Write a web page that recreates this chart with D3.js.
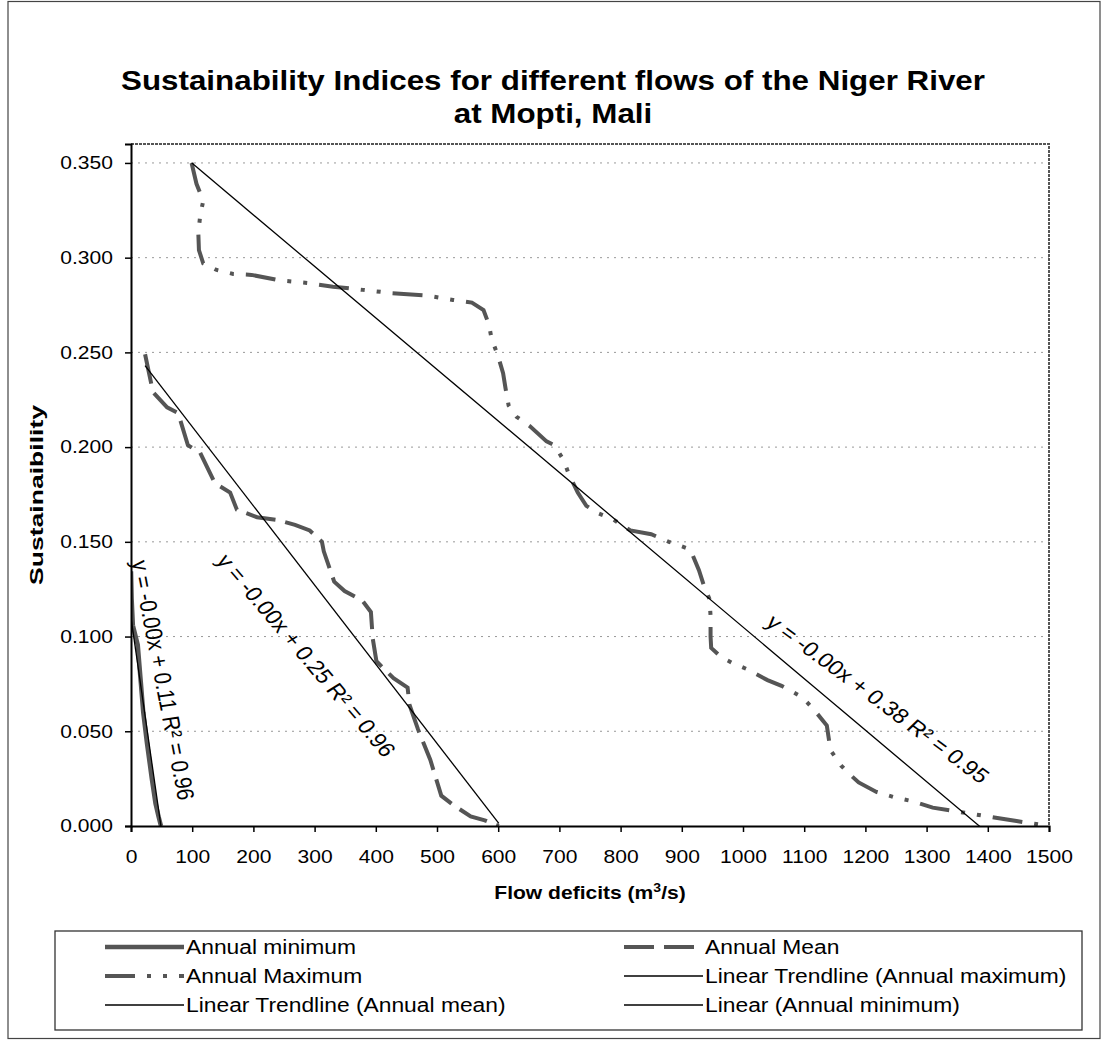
<!DOCTYPE html>
<html><head><meta charset="utf-8">
<script src="https://cdn.jsdelivr.net/npm/d3@7"></script>
<style>
html,body{margin:0;padding:0;background:#fff;}
svg{display:block;font-family:"Liberation Sans",Arial,sans-serif;}
</style></head>
<body>
<svg id="chart" width="1102" height="1042"></svg>
<script>
// ---------- data ----------
const titleLines = ["Sustainability Indices for different flows of the Niger River", "at Mopti, Mali"];
const xLabelMain = "Flow deficits (m";
const xLabelSup = "3";
const xLabelEnd = "/s)";
const yLabel = "Sustainaibility";
const xTicks = [0,100,200,300,400,500,600,700,800,900,1000,1100,1200,1300,1400,1500];
const yTicks = [0,0.05,0.10,0.15,0.20,0.25,0.30,0.35];

const annualMinimum = [[0,0.1345],[1,0.120],[3,0.106],[11,0.0956],[16,0.076],[20,0.060],[26,0.044],[34,0.025],[40,0.012],[45,0.005],[49,0]];
const annualMean = [[23,0.249],[36,0.229],[59,0.221],[77,0.218],[93,0.201],[113,0.197],[137,0.181],[162,0.176],[173,0.167],[206,0.163],[238,0.1616],[268,0.159],[292,0.156],[312,0.150],[315,0.145],[332,0.129],[349,0.124],[378,0.119],[392,0.113],[395,0.099],[401,0.087],[429,0.078],[452,0.073],[455,0.064],[469,0.051],[489,0.035],[507,0.016],[527,0.011],[555,0.005],[578,0.003],[601,0]];
const annualMaximum = [[99,0.350],[107,0.339],[118,0.330],[113,0.322],[110,0.313],[111,0.304],[118,0.297],[140,0.2935],[167,0.2914],[197,0.2909],[243,0.288],[289,0.2866],[330,0.2847],[379,0.283],[426,0.2813],[483,0.280],[526,0.2777],[557,0.2763],[576,0.2724],[585,0.2645],[589,0.2575],[600,0.2478],[608,0.239],[612,0.231],[617,0.222],[630,0.216],[652,0.211],[679,0.203],[692,0.201],[707,0.193],[715,0.186],[730,0.176],[744,0.169],[764,0.165],[787,0.162],[816,0.156],[850,0.154],[879,0.150],[914,0.146],[919,0.142],[928,0.135],[936,0.127],[945,0.120],[947,0.111],[947,0.100],[948,0.094],[965,0.089],[983,0.086],[1005,0.083],[1040,0.077],[1063,0.074],[1097,0.068],[1117,0.061],[1137,0.053],[1143,0.040],[1160,0.032],[1172,0.028],[1189,0.023],[1218,0.018],[1249,0.015],[1278,0.013],[1310,0.0097],[1344,0.0079],[1378,0.0062],[1413,0.0044],[1447,0.0026],[1482,0.0009]];

// linear trendlines: [min, mean, max]
const trendSlopes = [-0.00225, -0.000418, -0.000272];
const trendIntercepts = [0.11, 0.2526, 0.377];
const trendLabels = ["y = -0.00x + 0.11 R² = 0.96", "y = -0.00x + 0.25 R² = 0.96", "y = -0.00x + 0.38 R² = 0.95"];

const legendLabels = ["Annual minimum","Annual Mean","Annual Maximum","Linear Trendline (Annual maximum)","Linear Trendline (Annual mean)","Linear (Annual minimum)"];

// ---------- layout ----------
const SX = 1.17; // horizontal text stretch of the original picture
const svg = d3.select("#chart");
const plot = {l:131, r:1049, t:144, b:826};
const x = d3.scaleLinear().domain([0,1500]).range([plot.l, plot.r]);
const y = d3.scaleLinear().domain([0,0.36]).range([plot.b, plot.t]);
const seriesColor = "#555";

// outer frame
svg.append("rect").attr("x",8).attr("y",1.5).attr("width",1092).attr("height",1037)
  .attr("fill","#fff").attr("stroke","#444").attr("stroke-width",1.2);

// title
titleLines.forEach((t,i)=>{
  svg.append("text").attr("transform",`translate(553,${90+i*33}) scale(1.12,1)`)
    .attr("text-anchor","middle").attr("font-size",28).attr("font-weight","bold").attr("fill","#000").text(t);
});

// gridlines
svg.append("g").selectAll("line").data(yTicks.filter(d=>d>0)).join("line")
  .attr("x1",plot.l).attr("x2",plot.r).attr("y1",d=>y(d)).attr("y2",d=>y(d))
  .attr("stroke","#999").attr("stroke-width",1).attr("stroke-dasharray","2,5");

// plot border (top/right)
svg.append("path").attr("d",`M${plot.l},${plot.t}H${plot.r}V${plot.b}`)
  .attr("fill","none").attr("stroke","#555").attr("stroke-width",2).attr("stroke-dasharray","3,1");

// clip
svg.append("defs").append("clipPath").attr("id","clip").append("rect")
  .attr("x",plot.l).attr("y",plot.t).attr("width",plot.r-plot.l).attr("height",plot.b-plot.t);

const line = d3.line().x(d=>x(d[0])).y(d=>y(d[1]));
const g = svg.append("g").attr("clip-path","url(#clip)");

// series
g.append("path").datum(annualMinimum).attr("d",line).attr("fill","none")
  .attr("stroke",seriesColor).attr("stroke-width",4.5);
g.append("path").datum(annualMean).attr("d",line).attr("fill","none")
  .attr("stroke",seriesColor).attr("stroke-width",4).attr("stroke-dasharray","30,10");
g.append("path").datum(annualMaximum).attr("d",line).attr("fill","none")
  .attr("stroke",seriesColor).attr("stroke-width",4).attr("stroke-dasharray","30,12,4,12,4,12");

// trendlines
const seriesList = [annualMinimum, annualMean, annualMaximum];
seriesList.forEach((s,i)=>{
  const xs = d3.extent(s, d=>d[0]);
  const pts = xs.map(v=>[v, trendIntercepts[i] + trendSlopes[i]*v]);
  g.append("path").datum(pts).attr("d",line).attr("fill","none")
    .attr("stroke","#000").attr("stroke-width",1.3);
});

// trend equation labels (center in data coords, angle)
const labelPos = [[52,0.077],[286,0.090],[1220,0.067]];
const labelAngle = [80.5, 54, 41];
trendLabels.forEach((t,i)=>{
  svg.append("text")
    .attr("transform",`translate(${x(labelPos[i][0])},${y(labelPos[i][1])}) scale(${SX},1) rotate(${labelAngle[i]})`)
    .attr("text-anchor","middle").attr("dominant-baseline","central")
    .attr("font-size",20.5).attr("fill","#000").text(t);
});

// axes
const yAxis = svg.append("g").attr("transform",`translate(${plot.l},0)`)
  .call(d3.axisLeft(y).tickValues(yTicks).tickFormat(d3.format(".3f")).tickSize(6).tickPadding(9.5));
const xAxis = svg.append("g").attr("transform",`translate(0,${plot.b})`)
  .call(d3.axisBottom(x).tickValues(xTicks).tickFormat(d3.format("d")).tickSize(6).tickPadding(18));
[yAxis,xAxis].forEach(a=>{
  a.select(".domain").attr("stroke","#000").attr("stroke-width",2);
  a.selectAll(".tick line").attr("stroke","#000").attr("stroke-width",1.5);
  a.selectAll(".tick text").attr("font-size",18).attr("fill","#000")
    .attr("font-family","Liberation Sans, Arial, sans-serif")
    .attr("transform",`scale(${SX},1)`);
});

// axis titles
const xt = svg.append("text").attr("transform",`translate(${(plot.l+plot.r)/2},899) scale(${SX},1)`)
  .attr("text-anchor","middle").attr("font-size",18).attr("font-weight","bold");
xt.append("tspan").text(xLabelMain);
xt.append("tspan").attr("font-size",12).attr("dy",-7).text(xLabelSup);
xt.append("tspan").attr("dy",7).text(xLabelEnd);
svg.append("text").attr("transform",`translate(43,${(plot.t+plot.b)/2+10}) rotate(-90)`)
  .attr("text-anchor","middle").attr("font-size",18).attr("font-weight","bold")
  .attr("textLength",180).attr("lengthAdjust","spacingAndGlyphs").text(yLabel);

// legend
const leg = svg.append("g");
leg.append("rect").attr("x",55).attr("y",931).attr("width",1027).attr("height",99)
  .attr("fill","#fff").attr("stroke","#333").attr("stroke-width",1.3);
const legStyles = [
  {w:4.5,c:seriesColor,dash:null},
  {w:4,c:seriesColor,dash:"30,10"},
  {w:4,c:seriesColor,dash:"30,12,4,12,4,12"},
  {w:1.3,c:"#000",dash:null},
  {w:1.3,c:"#000",dash:null},
  {w:1.3,c:"#000",dash:null}
];
const colX = [105, 624];
const rowY = [947, 976, 1005];
legendLabels.forEach((t,i)=>{
  const cx = colX[i%2], cy = rowY[Math.floor(i/2)];
  const s = legStyles[i];
  leg.append("line").attr("x1",cx).attr("x2",cx+79).attr("y1",cy).attr("y2",cy)
    .attr("stroke",s.c).attr("stroke-width",s.w).attr("stroke-dasharray",s.dash);
  leg.append("text").attr("transform",`translate(${cx+81},${cy}) scale(${SX},1)`)
    .attr("dominant-baseline","central").attr("font-size",19.5).attr("fill","#000").text(t);
});
</script>
</body></html>
